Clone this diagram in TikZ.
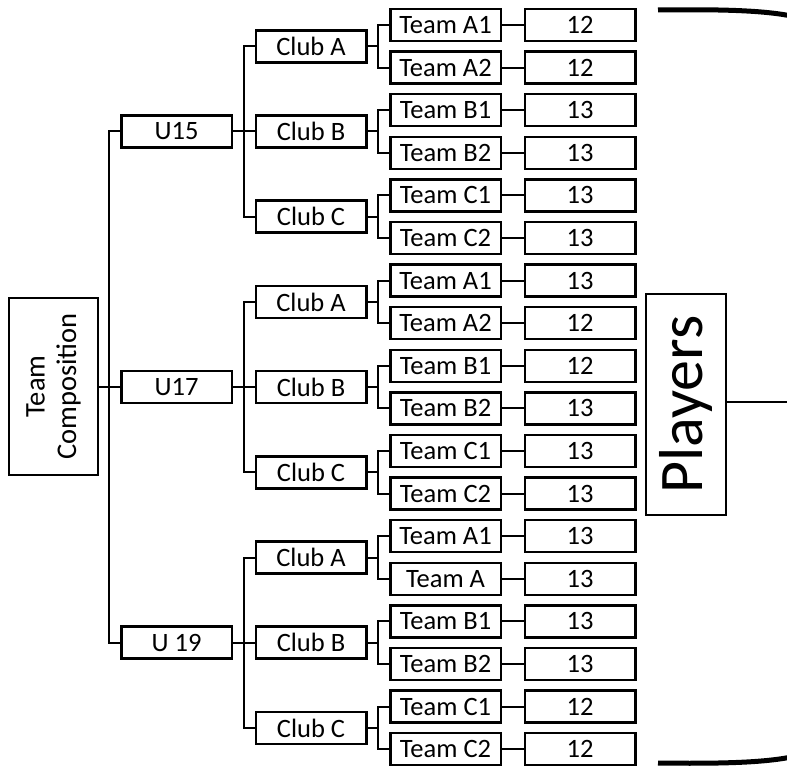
\documentclass[tikz,border=0pt]{standalone}
\usepackage{fontspec}
\setmainfont{Carlito}
\usepackage{tikz}
\usetikzlibrary{positioning,calc}

\begin{document}
\begin{tikzpicture}[
  x=1pt, y=-1pt,
  node distance=10.6pt and 24pt,
  every node/.style={font=\fontsize{26.5}{31}\selectfont},
  box/.style={draw, line width=2.5pt, minimum height=32pt, minimum width=110.5pt, inner sep=0pt, outer sep=0pt},
  side/.style={draw, line width=2.2pt, align=center, inner sep=0pt, outer sep=0pt, rotate=90},
  link/.style={line width=2pt},
  brace/.style={line width=5pt}
]
\fill[white, use as bounding box] (0,0) rectangle (787,767);

\node[box] (t15a1) at (445.5,25) {Team A1};
\node[box, below=of t15a1] (t15a2) {Team A2};
\node[box, below=of t15a2] (t15b1) {Team B1};
\node[box, below=of t15b1] (t15b2) {Team B2};
\node[box, below=of t15b2] (t15c1) {Team C1};
\node[box, below=of t15c1] (t15c2) {Team C2};
\node[box, below=of t15c2] (t17a1) {Team A1};
\node[box, below=of t17a1] (t17a2) {Team A2};
\node[box, below=of t17a2] (t17b1) {Team B1};
\node[box, below=of t17b1] (t17b2) {Team B2};
\node[box, below=of t17b2] (t17c1) {Team C1};
\node[box, below=of t17c1] (t17c2) {Team C2};
\node[box, below=of t17c2] (t19a1) {Team A1};
\node[box, below=of t19a1] (t19a2) {Team A};
\node[box, below=of t19a2] (t19b1) {Team B1};
\node[box, below=of t19b1] (t19b2) {Team B2};
\node[box, below=of t19b2] (t19c1) {Team C1};
\node[box, below=of t19c1] (t19c2) {Team C2};

\node[box, right=of t15a1] (n15a1) {12};
\node[box, right=of t15a2] (n15a2) {12};
\node[box, right=of t15b1] (n15b1) {13};
\node[box, right=of t15b2] (n15b2) {13};
\node[box, right=of t15c1] (n15c1) {13};
\node[box, right=of t15c2] (n15c2) {13};
\node[box, right=of t17a1] (n17a1) {13};
\node[box, right=of t17a2] (n17a2) {12};
\node[box, right=of t17b1] (n17b1) {12};
\node[box, right=of t17b2] (n17b2) {13};
\node[box, right=of t17c1] (n17c1) {13};
\node[box, right=of t17c2] (n17c2) {13};
\node[box, right=of t19a1] (n19a1) {13};
\node[box, right=of t19a2] (n19a2) {13};
\node[box, right=of t19b1] (n19b1) {13};
\node[box, right=of t19b2] (n19b2) {13};
\node[box, right=of t19c1] (n19c1) {12};
\node[box, right=of t19c2] (n19c2) {12};

\foreach \g in {15,17,19}{
  \node[box, left=of $(t\g a1.west)!0.5!(t\g a2.west)$] (c\g a) {Club A};
  \node[box, left=of $(t\g b1.west)!0.5!(t\g b2.west)$] (c\g b) {Club B};
  \node[box, left=of $(t\g c1.west)!0.5!(t\g c2.west)$] (c\g c) {Club C};
}
\node[box, left=of c15b] (u15) {U15};
\node[box, left=of c17b] (u17) {U17};
\node[box, left=of c19b] (u19) {U 19};

\node[side, minimum width=176.6pt, minimum height=88.6pt, font=\fontsize{28.5}{31.5}\selectfont] (tc) at (53.5,386.5) {Team\\Composition};
\node[side, minimum width=221pt, minimum height=80pt, font=\fontsize{62}{70}\selectfont] (players) at (686,404.5) {Players};
\coordinate (pend) at (790,402);

\foreach \g in {15,17,19}{
  \draw[link] (u\g.west) -- ++(-12,0) |- (tc.south);
  \foreach \c in {a,b,c}{
    \draw[link] (c\g\c.west) -- ++(-12,0) |- (u\g.east);
    \foreach \k in {1,2}{
      \draw[link] (t\g\c\k.west) -- ++(-12,0) |- (c\g\c.east);
      \draw[link] (t\g\c\k) -- (n\g\c\k);
    }
  }
}
\draw[link] (players.south |- pend) -- (pend);

\draw[brace] (658,10) .. controls (730,9) and (770,11) .. (796,17);
\draw[brace] (658,763) .. controls (730,764) and (770,762) .. (796,756);
\end{tikzpicture}
\end{document}
